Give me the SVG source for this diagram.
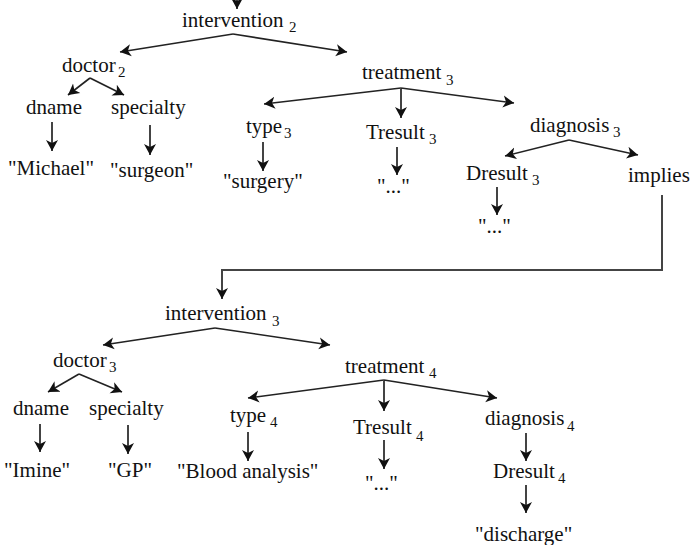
<svg xmlns="http://www.w3.org/2000/svg" width="694" height="545" viewBox="0 0 694 545">
<style>
text{font-family:"Liberation Serif","Times New Roman",serif;font-size:21px;fill:#111}
.s{font-size:15px}
.c path{fill:none;stroke:#222;stroke-width:1.6}
.c path.v{stroke:#444;stroke-width:2}
</style>
<defs>
<marker id="ah" markerUnits="userSpaceOnUse" markerWidth="14" markerHeight="13" refX="11" refY="6" orient="auto" viewBox="0 0 14 12">
<path d="M0,0 L11,6 L0,12 L3,6 z" fill="#111"/>
</marker>
</defs>
<rect width="694" height="545" fill="#fff"/>
<g class="c" id="connectors">
<path class="v" d="M237,0 L237,9" marker-end="url(#ah)"/>
<path d="M233,34 L120,52" marker-end="url(#ah)"/>
<path d="M233,34 L347,52" marker-end="url(#ah)"/>
<path d="M90,78 L68,95" marker-end="url(#ah)"/>
<path d="M90,78 L124,95" marker-end="url(#ah)"/>
<path class="v" d="M52,122 L52,151" marker-end="url(#ah)"/>
<path class="v" d="M150,125 L150,155" marker-end="url(#ah)"/>
<path d="M401,88 L264,104" marker-end="url(#ah)"/>
<path class="v" d="M401,88 L401,118" marker-end="url(#ah)"/>
<path d="M401,88 L514,103" marker-end="url(#ah)"/>
<path class="v" d="M263,142 L263,171" marker-end="url(#ah)"/>
<path class="v" d="M397,147 L397,175" marker-end="url(#ah)"/>
<path d="M569,140 L505,156" marker-end="url(#ah)"/>
<path d="M569,140 L638,155" marker-end="url(#ah)"/>
<path class="v" d="M497,187 L497,215" marker-end="url(#ah)"/>
<path class="v" d="M662,195 L662,270 L222,270 L222,299" marker-end="url(#ah)"/>
<path d="M215,328 L103,345" marker-end="url(#ah)"/>
<path d="M215,328 L330,345" marker-end="url(#ah)"/>
<path d="M79,374 L48,392" marker-end="url(#ah)"/>
<path d="M79,374 L122,392" marker-end="url(#ah)"/>
<path class="v" d="M40,424 L40,452" marker-end="url(#ah)"/>
<path class="v" d="M128,425 L128,454" marker-end="url(#ah)"/>
<path d="M384,380 L248,398" marker-end="url(#ah)"/>
<path class="v" d="M384,380 L384,411" marker-end="url(#ah)"/>
<path d="M384,380 L497,398" marker-end="url(#ah)"/>
<path class="v" d="M248,432 L248,461" marker-end="url(#ah)"/>
<path class="v" d="M384,440 L384,469" marker-end="url(#ah)"/>
<path class="v" d="M526,433 L526,461" marker-end="url(#ah)"/>
<path class="v" d="M526,485 L526,513" marker-end="url(#ah)"/>
</g>
<g id="intervention2"><text x="182" y="27">intervention<tspan class="s" x="289" y="32">2</tspan></text></g>
<g id="doctor2"><text x="62" y="72">doctor<tspan class="s" x="118" y="77">2</tspan></text></g>
<g id="dname2"><text x="26" y="114">dname</text></g>
<g id="specialty2"><text x="111" y="114">specialty</text></g>
<g id="michael"><text x="8" y="175">"Michael"</text></g>
<g id="surgeon"><text x="110" y="177">"surgeon"</text></g>
<g id="treatment3"><text x="362" y="79">treatment<tspan class="s" x="446" y="85">3</tspan></text></g>
<g id="type3"><text x="246" y="133">type<tspan class="s" x="284" y="138">3</tspan></text></g>
<g id="surgery"><text x="223" y="188">"surgery"</text></g>
<g id="tresult3"><text x="366" y="139">Tresult<tspan class="s" x="429" y="144">3</tspan></text></g>
<g id="tres3val"><text x="377" y="193">"..."</text></g>
<g id="diagnosis3"><text x="530" y="132">diagnosis<tspan class="s" x="613" y="137">3</tspan></text></g>
<g id="dresult3"><text x="466" y="180">Dresult<tspan class="s" x="532" y="185">3</tspan></text></g>
<g id="implies"><text x="628" y="182">implies</text></g>
<g id="dres3val"><text x="478" y="233">"..."</text></g>
<g id="intervention3"><text x="165" y="320">intervention<tspan class="s" x="272" y="326">3</tspan></text></g>
<g id="doctor3"><text x="53" y="367">doctor<tspan class="s" x="109" y="372">3</tspan></text></g>
<g id="dname3"><text x="13" y="415">dname</text></g>
<g id="specialty3"><text x="89" y="415">specialty</text></g>
<g id="imine"><text x="4" y="477">"Imine"</text></g>
<g id="gp"><text x="108" y="477">"GP"</text></g>
<g id="treatment4"><text x="345" y="373">treatment<tspan class="s" x="429" y="378">4</tspan></text></g>
<g id="type4"><text x="230" y="422">type<tspan class="s" x="270" y="427">4</tspan></text></g>
<g id="blood"><text x="177" y="478">"Blood analysis"</text></g>
<g id="tresult4"><text x="353" y="434">Tresult<tspan class="s" x="416" y="441">4</tspan></text></g>
<g id="tres4val"><text x="365" y="490">"..."</text></g>
<g id="diagnosis4"><text x="485" y="425">diagnosis<tspan class="s" x="567" y="431">4</tspan></text></g>
<g id="dresult4"><text x="493" y="478">Dresult<tspan class="s" x="558" y="483">4</tspan></text></g>
<g id="discharge"><text x="475" y="541">"discharge"</text></g>
</svg>
